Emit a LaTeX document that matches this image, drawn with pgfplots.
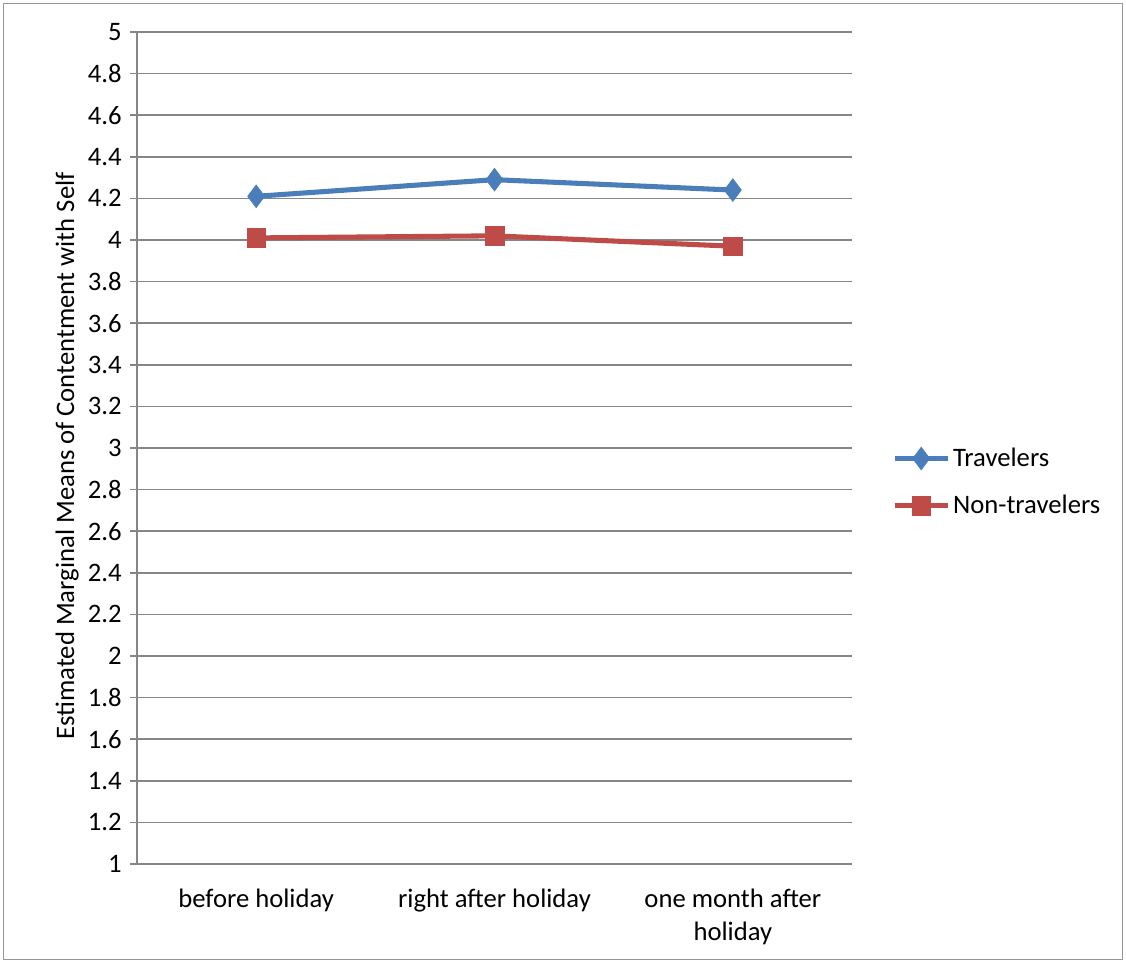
\documentclass[border=0pt]{standalone}
\usepackage{pgfplots}
\pgfplotsset{compat=1.18}
\usepackage{fontspec}
\setmainfont{Carlito}
\definecolor{travblue}{RGB}{74,126,187}
\definecolor{nonred}{RGB}{190,75,72}
\definecolor{gridgray}{RGB}{134,134,134}
\definecolor{framegray}{RGB}{150,150,150}
\newcommand{\chartfont}{\fontsize{20}{25}\selectfont}
\begin{document}
\begin{tikzpicture}
% outer chart frame, 844.5pt x 722.25pt
\path (0pt,0pt) rectangle (844.5pt,722.25pt);
\draw[framegray, line width=0.9pt] (2.5pt,2.5pt) rectangle (842pt,719.75pt);
\begin{axis}[
  at={(102.75pt,74.25pt)}, anchor=south west,
  scale only axis, width=536.25pt, height=624pt,
  xmin=-0.5, xmax=2.5, ymin=1, ymax=5,
  xtick={0,1,2},
  xticklabels={before holiday, right after holiday, {one month after\\holiday}},
  ytick={1,1.2,...,5.01},
  yticklabels={1,1.2,1.4,1.6,1.8,2,2.2,2.4,2.6,2.8,3,3.2,3.4,3.6,3.8,4,4.2,4.4,4.6,4.8,5},
  ymajorgrids, grid style={gridgray, line width=1.1pt},
  axis x line*=bottom, axis y line*=left,
  axis line style={gridgray, line width=1.1pt, -},
  x tick style={draw=none},
  y tick style={gridgray, line width=1.1pt},
  tick align=outside, major tick length=5pt,
  font=\chartfont,
  yticklabel style={font=\chartfont, xshift=-3pt},
  xticklabel style={font=\chartfont, align=center, yshift=-10pt},
  ylabel={Estimated Marginal Means of Contentment with Self},
  ylabel style={font=\chartfont},
  every axis y label/.style={at={(ticklabel cs:0.5)}, rotate=90, anchor=south, xshift=-6pt},
  clip=false,
  legend style={at={(1.05,0.459)}, anchor=west, draw=none, fill=none,
    font=\chartfont, row sep=16pt,
    /tikz/every even column/.append style={column sep=2pt}},
  legend cell align=left,
  legend image code/.code={
    \draw[#1, mark=none] (0pt,0pt) -- (40pt,0pt);
    \draw[#1, only marks] plot coordinates {(20pt,0pt)};
  },
]
\addplot[travblue, line width=3.8pt, mark=diamond*, mark size=8.5pt,
  mark options={solid, fill=travblue, line width=0.5pt}]
  coordinates {(0,4.21) (1,4.29) (2,4.24)};
\addlegendentry{Travelers}
\addplot[nonred, line width=3.8pt, mark=square*, mark size=7pt,
  mark options={solid, fill=nonred, line width=0.5pt}]
  coordinates {(0,4.01) (1,4.02) (2,3.97)};
\addlegendentry{Non-travelers}
\end{axis}
\end{tikzpicture}
\end{document}
